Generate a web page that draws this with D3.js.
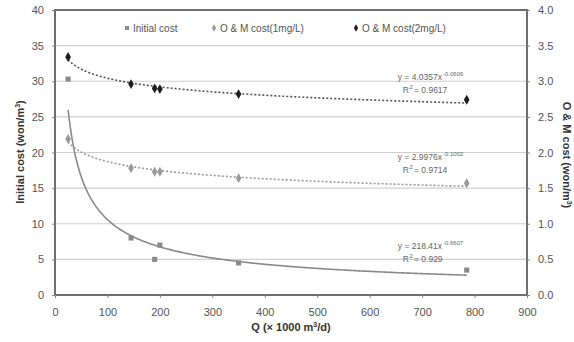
<!DOCTYPE html>
<html>
<head>
<meta charset="utf-8">
<script src="https://cdn.jsdelivr.net/npm/d3@7"></script>
<style>
  body { margin: 0; background: #fff; }
  svg { font-family: "Liberation Sans", Arial, sans-serif; }
</style>
</head>
<body>
<div id="chart"></div>
<script>
// flow rate Q (x 1000 m3/d)
const flows = [25, 145, 190, 200, 350, 785];
// initial cost (won/m3), left axis
const initialCost = [30.3, 8.0, 5.0, 7.0, 4.5, 3.5];
// O&M cost (won/m3), right axis
const omCost1 = [2.19, 1.78, 1.73, 1.73, 1.64, 1.57];
const omCost2 = [3.34, 2.96, 2.90, 2.89, 2.82, 2.74];

const xTicks = [0, 100, 200, 300, 400, 500, 600, 700, 800, 900];
const leftTicks = [0, 5, 10, 15, 20, 25, 30, 35, 40];
const rightTicks = [0, 0.5, 1, 1.5, 2, 2.5, 3, 3.5, 4];

const equations = [
  { eq: 'y = 4.0357x', exp: '-0.0606', r2: '0.9617', at: 3.02 },
  { eq: 'y = 2.9976x', exp: '-0.1002', r2: '0.9714', at: 1.9 },
  { eq: 'y = 218.41x', exp: '-0.6607', r2: '0.929', at: 0.65 }
];

const width = 574, height = 342;
const svg = d3.select('#chart').append('svg')
  .attr('width', width)
  .attr('height', height);

const x = d3.scaleLinear().domain([0, 900]).range([55, 527]);
const yL = d3.scaleLinear().domain([0, 40]).range([295, 10]);
const yR = d3.scaleLinear().domain([0, 4]).range([295, 10]);

// grid
svg.append('g').selectAll('line')
  .data(leftTicks.slice(1, -1))
  .enter().append('line')
  .attr('x1', x(0)).attr('x2', x(900))
  .attr('y1', d => yL(d)).attr('y2', d => yL(d))
  .attr('stroke', '#d0d0d0')
  .attr('stroke-width', 1.2);

// frame
svg.append('rect')
  .attr('x', x(0)).attr('y', yL(40))
  .attr('width', x(900) - x(0)).attr('height', yL(0) - yL(40))
  .attr('fill', 'none')
  .attr('stroke', '#6e6e6e')
  .attr('stroke-width', 2);

// axes
const xAxis = svg.append('g')
  .attr('transform', `translate(0,${yL(0)})`)
  .call(d3.axisBottom(x).tickValues(xTicks).tickSize(3).tickPadding(10));
const leftAxis = svg.append('g')
  .attr('transform', `translate(${x(0)},0)`)
  .call(d3.axisLeft(yL).tickValues(leftTicks).tickSize(3).tickPadding(8));
const rightAxis = svg.append('g')
  .attr('transform', `translate(${x(900)},0)`)
  .call(d3.axisRight(yR).tickValues(rightTicks).tickFormat(d3.format('.1f')).tickSize(3).tickPadding(8));

[xAxis, leftAxis, rightAxis].forEach(a => {
  a.select('.domain').remove();
  a.selectAll('line').attr('stroke', '#888');
  a.selectAll('text').attr('fill', '#555').style('font-size', '11px');
});

// power trend fitted in log-log space from the points
function powerFit(xs, ys) {
  const lx = xs.map(Math.log), ly = ys.map(Math.log);
  const mx = d3.mean(lx), my = d3.mean(ly);
  const b = d3.sum(lx, (v, i) => (v - mx) * (ly[i] - my)) / d3.sum(lx, v => (v - mx) * (v - mx));
  const a = Math.exp(my - b * mx);
  return q => a * Math.pow(q, b);
}

const trendX = d3.range(flows[0], d3.max(flows) + 1, 2);

function drawTrend(ys, yScale, color, dash, sw) {
  const f = powerFit(flows, ys);
  svg.append('path')
    .datum(trendX)
    .attr('d', d3.line().x(d => x(d)).y(d => yScale(f(d))))
    .attr('fill', 'none')
    .attr('stroke', color)
    .attr('stroke-width', sw)
    .attr('stroke-dasharray', dash);
}

drawTrend(initialCost, yL, '#8a8a8a', null, 1.6);
drawTrend(omCost1, yR, '#9a9a9a', '2,2', 1.6);
drawTrend(omCost2, yR, '#555', '2,2', 1.6);

const square = d3.symbol().type(d3.symbolSquare).size(26);
const diamond = d3.symbol().type(d3.symbolDiamond).size(28);

function drawPoints(ys, yScale, sym, color) {
  svg.append('g').selectAll('path')
    .data(flows)
    .enter().append('path')
    .attr('d', sym)
    .attr('transform', (d, i) => `translate(${x(d)},${yScale(ys[i])})`)
    .attr('fill', color);
}

drawPoints(initialCost, yL, square, '#8a8a8a');
drawPoints(omCost1, yR, diamond, '#9a9a9a');
drawPoints(omCost2, yR, diamond, '#1e1e1e');

// trend equations (superscripts as separate texts)
equations.forEach(e => {
  const by = yR(e.at);
  svg.append('text')
    .attr('x', 442).attr('y', by)
    .attr('text-anchor', 'end')
    .attr('fill', '#666')
    .style('font-size', '8.5px')
    .text(e.eq);
  svg.append('text')
    .attr('x', 443).attr('y', by - 4)
    .attr('fill', '#666')
    .style('font-size', '6px')
    .text(e.exp);
  svg.append('text')
    .attr('x', 409).attr('y', by + 13)
    .attr('text-anchor', 'end')
    .attr('fill', '#666')
    .style('font-size', '8.5px')
    .text('R');
  svg.append('text')
    .attr('x', 409.5).attr('y', by + 9)
    .attr('fill', '#666')
    .style('font-size', '6px')
    .text('2');
  svg.append('text')
    .attr('x', 414).attr('y', by + 13)
    .attr('fill', '#666')
    .style('font-size', '8.5px')
    .text('= ' + e.r2);
});

// legend
const legendItems = [
  { name: 'Initial cost', sym: square, color: '#8a8a8a', x: 127 },
  { name: 'O & M cost(1mg/L)', sym: diamond, color: '#9a9a9a', x: 214 },
  { name: 'O & M cost(2mg/L)', sym: diamond, color: '#1e1e1e', x: 356 }
];
const lg = svg.append('g').selectAll('g')
  .data(legendItems)
  .enter().append('g')
  .attr('transform', d => `translate(${d.x},28)`);
lg.append('path')
  .attr('d', d => d.sym.size(16)())
  .attr('fill', d => d.color);
lg.append('text')
  .text(d => d.name)
  .attr('x', 6).attr('y', 3.5)
  .attr('fill', '#555')
  .style('font-size', '10px');

// axis titles
const xt = svg.append('text')
  .attr('x', 291).attr('y', 331)
  .attr('text-anchor', 'middle')
  .attr('fill', '#333')
  .style('font-size', '11px')
  .style('font-weight', 'bold');
xt.append('tspan').text('Q (× 1000 m');
xt.append('tspan').text('3').attr('dy', -4).style('font-size', '7px');
xt.append('tspan').text('/d)').attr('dy', 4);

const lt = svg.append('text')
  .attr('transform', 'translate(24,152) rotate(-90)')
  .attr('text-anchor', 'middle')
  .attr('fill', '#333')
  .style('font-size', '11px')
  .style('font-weight', 'bold');
lt.append('tspan').text('Initial cost (won/m');
lt.append('tspan').text('3').attr('dy', -4).style('font-size', '7px');
lt.append('tspan').text(')').attr('dy', 4);

const rt = svg.append('text')
  .attr('transform', 'translate(563,155) rotate(90)')
  .attr('text-anchor', 'middle')
  .attr('fill', '#333')
  .style('font-size', '11px')
  .style('font-weight', 'bold');
rt.append('tspan').text('O & M cost (won/m');
rt.append('tspan').text('3').attr('dy', -4).style('font-size', '7px');
rt.append('tspan').text(')').attr('dy', 4);
</script>
</body>
</html>
